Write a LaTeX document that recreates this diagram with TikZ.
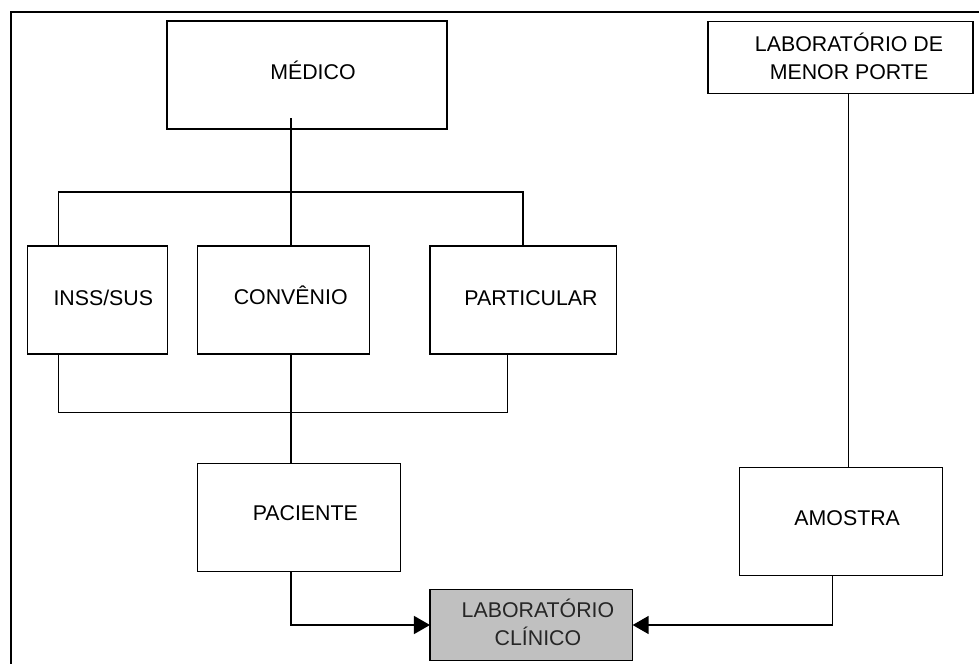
\documentclass[tikz,border=0pt]{standalone}
\usepackage{fontspec}
\setmainfont{Liberation Sans}
\usetikzlibrary{arrows.meta,calc}
\definecolor{labgray}{HTML}{C0C0C0}
\begin{document}
\begin{tikzpicture}[x=0.75pt,y=-0.75pt,
  box/.style={draw=black, line width=1.1pt, inner sep=0pt, outer sep=0pt, fill=white},
  txt/.style={font=\fontsize{16}{20.8}\selectfont, align=center, text height=11.5pt, text depth=0pt, inner sep=0pt},
  conn/.style={draw=black, line width=1.1pt},
  arr/.style={conn, -{Triangle[length=12pt,width=13.5pt]}}
]
\useasboundingbox (0,0) rectangle (979,664);
\begin{scope}
\clip (0,0) rectangle (979,664);
\draw[line width=1.6pt] (11,11.7) rectangle (1000,700);
\end{scope}

\node[box, minimum width=210pt, minimum height=81pt,
  label={[txt, name=tmed, xshift=4.5pt, yshift=2.1pt]center:MÉDICO}] (med) at (307,75) {};
\node[box, minimum width=198.75pt, minimum height=53.7pt,
  label={[txt, name=tlabmp, xshift=6.4pt, yshift=-10.4pt]center:LABORATÓRIO DE\\MENOR PORTE}] (labmp) at (840.5,57.5) {};
\node[box, minimum width=105pt, minimum height=81pt,
  label={[txt, name=tinss, xshift=4.35pt, yshift=2pt]center:INSS/SUS}] (inss) at (97.5,300) {};
\node[box, minimum width=128.9pt, minimum height=81pt,
  label={[txt, name=tconv, xshift=5.5pt, yshift=2.25pt]center:CONVÊNIO}] (conv) at (283.4,300) {};
\node[box, minimum width=140pt, minimum height=81pt,
  label={[txt, name=tpart, xshift=5.8pt, yshift=1.7pt]center:PARTICULAR}] (part) at (523.3,300) {};
\node[box, minimum width=152.25pt, minimum height=81.3pt,
  label={[txt, name=tpac, xshift=4.9pt, yshift=3.4pt]center:PACIENTE}] (pac) at (298.8,517.5) {};
\node[box, minimum width=152.25pt, minimum height=81.3pt,
  label={[txt, name=tamo, xshift=4.8pt, yshift=2.4pt]center:AMOSTRA}] (amo) at (840.8,521.5) {};
\node[box, fill=labgray, minimum width=152pt, minimum height=53.5pt,
  label={[txt, name=tlabc, xshift=5pt, yshift=-9.65pt, text=black!85]center:LABORATÓRIO\\CLÍNICO}] (labc) at (531.3,625) {};

\coordinate (jt) at (291,192);
\coordinate (jb) at (291,412.7);

\draw[conn] (med.south -| jt) ++(0,-11) -- (jt);
\draw[conn] (inss.north -| 58.5,0) |- (jt) -| (part.north -| 523,0);
\draw[conn] (jt) -- (conv.north -| jt);
\draw[conn] (inss.south -| 58.5,0) |- (jb) -| (part.south -| 507.7,0);
\draw[conn] (conv.south -| jt) -- (pac.north -| jt);
\draw[arr] (pac.south -| jt) |- (labc.west);
\draw[arr] (amo.south -| 832.7,0) |- (labc.east);
\draw[conn] (labmp.south -| 848.3,0) -- (amo.north -| 848.3,0);
\end{tikzpicture}
\end{document}
